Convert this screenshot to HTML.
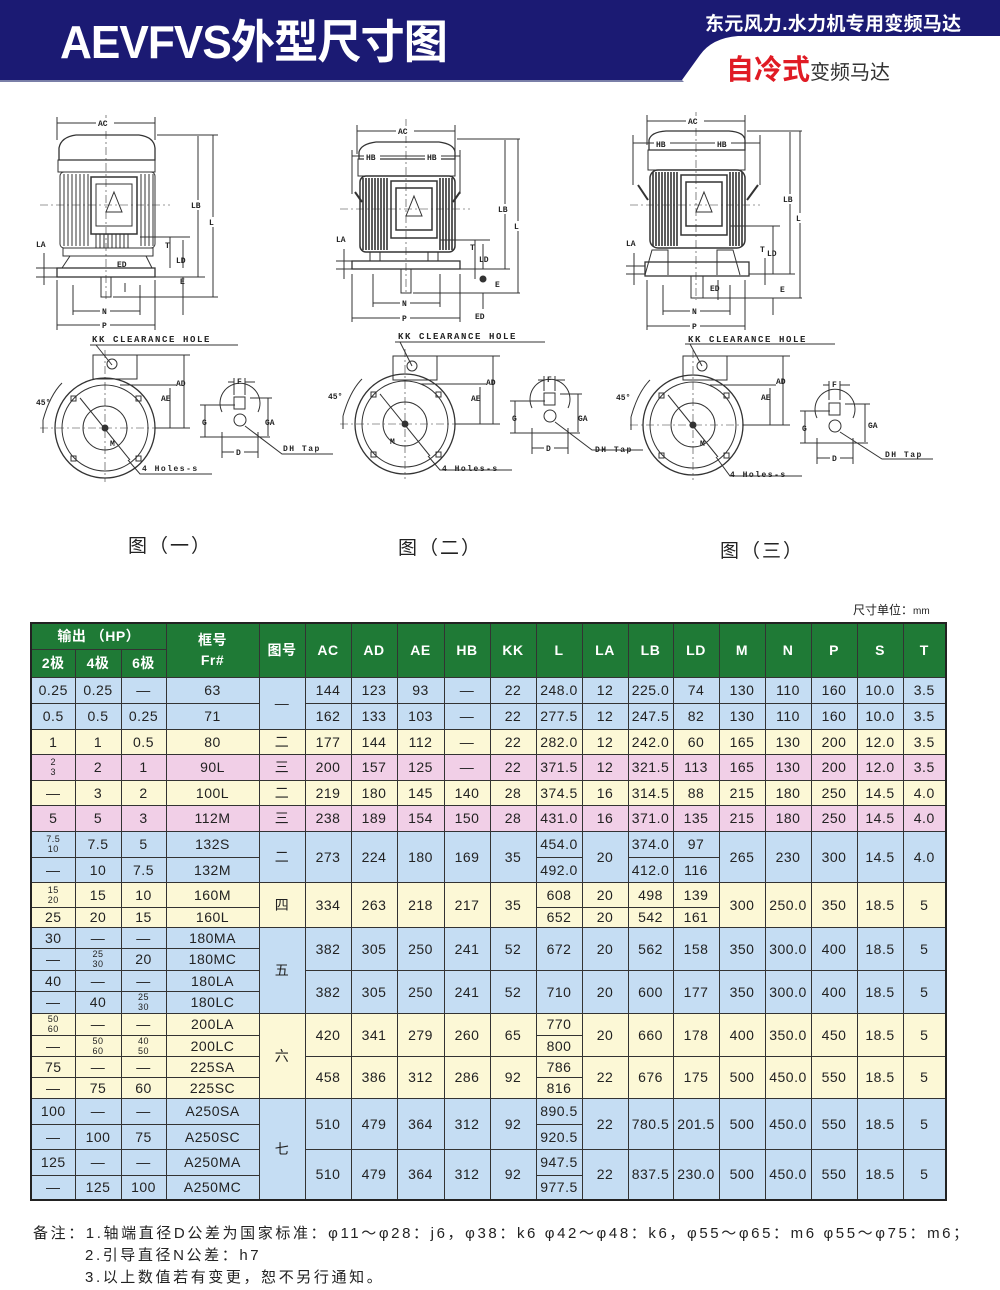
<!DOCTYPE html>
<html><head><meta charset="utf-8">
<style>
*{margin:0;padding:0;box-sizing:border-box}
body{width:1000px;height:1290px;background:#fff;position:relative;overflow:hidden;font-family:"Liberation Sans","Noto Sans CJK SC",sans-serif;color:#222}
.abs{position:absolute}
table{position:absolute;left:30px;top:622px;border-collapse:collapse;table-layout:fixed;border:2px solid #222}
td,th{border:1px solid #333;text-align:center;font-size:14px;padding:0;line-height:1;white-space:nowrap;letter-spacing:0.5px}
th{background:#1f7a36;color:#fff;font-weight:bold;font-size:14px}
.b{background:#c5ddf3}.y{background:#fcf8d6}.p{background:#f1cfe7}
.fr{font-size:9px;line-height:10px;display:block}
.cap{position:absolute;font-size:19px;font-family:"Liberation Sans","Noto Sans CJK SC",sans-serif;letter-spacing:2px}
svg text{font-family:"Liberation Mono",monospace;font-weight:bold;font-size:8px;fill:#222}
</style></head><body>
<svg class="abs" style="left:0;top:0" width="1000" height="100">
<path d="M0 0 H1000 V36 H738 Q712 38 700 55 L682 80 H0 Z" fill="#1b1a73"/>
<path d="M0 80 H682 L684 82 H0 Z" fill="#7a7fa8"/>
</svg>
<div class="abs" style="left:60px;top:6px;color:#fff;font-size:46px;font-weight:bold;letter-spacing:-1px;transform:scaleX(0.96);transform-origin:left">AEVFVS外型尺寸图</div>
<div class="abs" style="left:705px;top:9px;color:#fff;font-size:19px;font-weight:bold;letter-spacing:0.3px">东元风力.水力机专用变频马达</div>
<div class="abs" style="left:726px;top:48px;font-size:28px;color:#e01b24;font-weight:bold">自冷式<span style="font-size:20px;color:#333;font-weight:normal">变频马达</span></div>

<svg class="abs" style="left:0;top:100px" width="1000" height="420" viewBox="0 100 1000 420">
<!-- FIG 1 -->
<g>
<g fill="none" stroke="#333" stroke-width="1">
<line x1="57" y1="123" x2="155" y2="123"/><line x1="57" y1="117" x2="57" y2="140"/><line x1="155" y1="117" x2="155" y2="140"/>
<path d="M59 160 L59 148 Q61 137 76 135 L139 135 Q154 137 155 148 L155 160 Z" stroke-width="1.3"/>
<rect x="58" y="160" width="97" height="12"/>
<rect x="60" y="172" width="95" height="76" rx="4"/>
<path d="M64 174V246M68 174V246M72 174V246M76 174V246M80 174V246M84 174V246M88 174V246M141 174V246M145 174V246M149 174V246M153 174V246M96 234V248M100 234V248M104 234V248M108 234V248M112 234V248M116 234V248M120 234V248M124 234V248M128 234V248"/>
<rect x="91" y="177" width="46" height="57" stroke-width="1.5"/><rect x="96" y="184" width="36" height="42"/>
<path d="M114 192 L122 212 L106 212 Z"/>
<path d="M63 248 H153 V256 H63 Z"/><path d="M70 256 L62 268 M146 256 L152 268"/><rect x="57" y="268" width="98" height="9" stroke-width="1.3"/>
<rect x="101" y="277" width="10" height="20"/>
<line x1="106" y1="115" x2="106" y2="300" stroke-dasharray="8 3 2 3" stroke-width=".6"/>
<line x1="40" y1="205" x2="170" y2="205" stroke-dasharray="8 3 2 3" stroke-width=".6"/>
<line x1="157" y1="135" x2="218" y2="135"/><line x1="155" y1="277" x2="205" y2="277"/><line x1="113" y1="297" x2="218" y2="297"/>
<line x1="198" y1="136" x2="198" y2="277"/><line x1="213" y1="135" x2="213" y2="297"/>
<line x1="140" y1="237" x2="190" y2="237"/><line x1="170" y1="237" x2="170" y2="268"/><line x1="183" y1="240" x2="183" y2="268"/>
<line x1="183" y1="277" x2="183" y2="315"/><line x1="125" y1="283" x2="125" y2="292"/>
<line x1="44" y1="253" x2="44" y2="285"/><line x1="36" y1="268" x2="57" y2="268"/><line x1="36" y1="277" x2="57" y2="277"/>
<line x1="73" y1="311" x2="140" y2="311"/><line x1="73" y1="285" x2="73" y2="315"/><line x1="140" y1="285" x2="140" y2="315"/>
<line x1="57" y1="325" x2="155" y2="325"/><line x1="57" y1="280" x2="57" y2="330"/><line x1="155" y1="280" x2="155" y2="330"/>
<line x1="90" y1="345" x2="238" y2="345"/><line x1="96" y1="345" x2="112" y2="365"/>
<rect x="93" y="355" width="44" height="24"/><circle cx="112" cy="364" r="5"/>
<circle cx="105" cy="428" r="50" stroke-width="1.3"/><circle cx="105" cy="428" r="43"/><circle cx="105" cy="428" r="22"/><circle cx="105" cy="428" r="3" fill="#333"/>
<line x1="40" y1="428" x2="190" y2="428" stroke-dasharray="8 3 2 3" stroke-width=".6"/><line x1="105" y1="350" x2="105" y2="482" stroke-dasharray="8 3 2 3" stroke-width=".6"/>
<line x1="80" y1="398" x2="130" y2="460"/>
<rect x="71" y="396" width="5" height="5"/><rect x="136" y="396" width="5" height="5"/><rect x="71" y="456" width="5" height="5"/><rect x="136" y="456" width="5" height="5"/>
<line x1="137" y1="355" x2="190" y2="355"/><line x1="155" y1="428" x2="190" y2="428"/><line x1="184" y1="355" x2="184" y2="428"/><line x1="170" y1="388" x2="170" y2="428"/><line x1="120" y1="385" x2="176" y2="385"/>
<line x1="43" y1="420" x2="43" y2="433"/><path d="M43 420 Q50 395 62 383"/>
<path d="M128 460 L140 474 H212"/>
<path d="M222 412 A20 20 0 1 1 258 412"/><rect x="234" y="397" width="11" height="12"/><circle cx="240" cy="420" r="6"/>
<line x1="228" y1="382" x2="234" y2="382"/><line x1="245" y1="382" x2="255" y2="382"/><line x1="234" y1="378" x2="234" y2="395"/><line x1="245" y1="378" x2="245" y2="395"/>
<line x1="205" y1="405" x2="205" y2="437"/><line x1="200" y1="405" x2="235" y2="405"/><line x1="200" y1="437" x2="270" y2="437"/>
<line x1="268" y1="398" x2="268" y2="436"/><line x1="250" y1="398" x2="272" y2="398"/>
<line x1="222" y1="452" x2="258" y2="452"/><line x1="222" y1="432" x2="222" y2="458"/><line x1="258" y1="432" x2="258" y2="458"/>
<path d="M245 426 L282 454 H333"/>
</g>
<rect x="96" y="118" width="18" height="10" fill="#fff"/><text x="98" y="126">AC</text>
<rect x="190" y="200" width="15" height="10" fill="#fff"/><text x="191" y="208">LB</text>
<rect x="208" y="217" width="10" height="10" fill="#fff"/><text x="209" y="225">L</text>
<text x="165" y="248">T</text><text x="176" y="263">LD</text><text x="117" y="267">ED</text><text x="180" y="284">E</text>
<text x="36" y="247">LA</text>
<rect x="100" y="306" width="10" height="10" fill="#fff"/><text x="102" y="314">N</text>
<rect x="100" y="320" width="10" height="10" fill="#fff"/><text x="102" y="328">P</text>
<text x="92" y="342" style="font-size:9px;letter-spacing:1.6px">KK CLEARANCE HOLE</text>
<text x="176" y="386">AD</text><text x="161" y="401">AE</text><text x="36" y="405">45°</text><text x="110" y="446">M</text>
<text x="142" y="471" style="letter-spacing:1.5px">4 Holes-s</text>
<text x="237" y="384">F</text><text x="202" y="425">G</text><text x="265" y="425">GA</text>
<rect x="234" y="447" width="10" height="10" fill="#fff"/><text x="236" y="455">D</text>
<text x="283" y="451" style="letter-spacing:1.5px">DH Tap</text>
</g>

<!-- FIG 2 -->
<g transform="translate(300,4)">
<g fill="none" stroke="#333" stroke-width="1">
<line x1="57" y1="127" x2="155" y2="127"/><line x1="57" y1="121" x2="57" y2="150"/><line x1="155" y1="121" x2="155" y2="150"/>
<path d="M59 155 L59 148 Q61 140 76 138 L139 138 Q154 140 155 148 L155 155 Z" stroke-width="1.3"/>
<rect x="58" y="155" width="97" height="17"/>
<line x1="52" y1="152" x2="160" y2="152"/><line x1="52" y1="146" x2="52" y2="190"/><line x1="160" y1="146" x2="160" y2="190"/>
<rect x="60" y="172" width="95" height="76" rx="6" stroke-width="1.5"/>
<path d="M63 174V246M66 174V246M69 174V246M72 174V246M75 174V246M78 174V246M81 174V246M84 174V246M87 174V246M140 174V246M143 174V246M146 174V246M149 174V246M152 174V246" stroke-width="1.6"/>
<path d="M55 188 L62 198 M160 188 L153 198" stroke-width="2"/>
<rect x="91" y="177" width="46" height="57" stroke-width="1.5"/><rect x="96" y="184" width="36" height="42" stroke-width="1.5"/>
<path d="M114 192 L122 212 L106 212 Z"/>
<rect x="70" y="248" width="10" height="9"/><rect x="128" y="248" width="10" height="9"/>
<rect x="52" y="257" width="108" height="8" stroke-width="1.3"/>
<rect x="101" y="265" width="10" height="24"/>
<line x1="106" y1="115" x2="106" y2="290" stroke-dasharray="8 3 2 3" stroke-width=".6"/>
<line x1="40" y1="205" x2="170" y2="205" stroke-dasharray="8 3 2 3" stroke-width=".6"/>
<line x1="157" y1="135" x2="220" y2="135"/><line x1="160" y1="265" x2="210" y2="265"/><line x1="113" y1="289" x2="220" y2="289"/>
<line x1="205" y1="136" x2="205" y2="265"/><line x1="218" y1="135" x2="218" y2="289"/>
<line x1="140" y1="236" x2="190" y2="236"/><line x1="175" y1="236" x2="175" y2="275"/><line x1="183" y1="240" x2="183" y2="265"/>
<circle cx="183" cy="275" r="3" fill="#333"/><line x1="183" y1="289" x2="183" y2="305"/>
<line x1="44" y1="245" x2="44" y2="275"/><line x1="36" y1="257" x2="52" y2="257"/><line x1="36" y1="265" x2="52" y2="265"/>
<line x1="73" y1="299" x2="140" y2="299"/><line x1="73" y1="270" x2="73" y2="303"/><line x1="140" y1="270" x2="140" y2="303"/>
<line x1="52" y1="314" x2="160" y2="314"/><line x1="52" y1="270" x2="52" y2="318"/><line x1="160" y1="270" x2="160" y2="318"/>
<line x1="95" y1="338" x2="245" y2="338"/><line x1="100" y1="338" x2="112" y2="362"/>
<rect x="93" y="352" width="44" height="24"/><circle cx="112" cy="362" r="5"/>
<circle cx="105" cy="420" r="50" stroke-width="1.3"/><circle cx="105" cy="420" r="43"/><circle cx="105" cy="420" r="22"/><circle cx="105" cy="420" r="3" fill="#333"/>
<line x1="40" y1="420" x2="190" y2="420" stroke-dasharray="8 3 2 3" stroke-width=".6"/><line x1="105" y1="345" x2="105" y2="475" stroke-dasharray="8 3 2 3" stroke-width=".6"/>
<line x1="80" y1="390" x2="130" y2="452"/>
<rect x="71" y="388" width="5" height="5"/><rect x="136" y="388" width="5" height="5"/><rect x="71" y="448" width="5" height="5"/><rect x="136" y="448" width="5" height="5"/>
<line x1="137" y1="352" x2="200" y2="352"/><line x1="155" y1="420" x2="200" y2="420"/><line x1="193" y1="352" x2="193" y2="420"/><line x1="180" y1="383" x2="180" y2="420"/><line x1="120" y1="380" x2="186" y2="380"/>
<line x1="43" y1="412" x2="43" y2="425"/><path d="M43 412 Q50 387 62 375"/>
<path d="M128 452 L140 466 H212"/>
<path d="M232 404 A20 20 0 1 1 268 404"/><rect x="244" y="389" width="11" height="12"/><circle cx="250" cy="412" r="6"/>
<line x1="238" y1="376" x2="244" y2="376"/><line x1="255" y1="376" x2="265" y2="376"/><line x1="244" y1="372" x2="244" y2="387"/><line x1="255" y1="372" x2="255" y2="387"/>
<line x1="215" y1="397" x2="215" y2="429"/><line x1="210" y1="397" x2="245" y2="397"/><line x1="210" y1="429" x2="280" y2="429"/>
<line x1="278" y1="390" x2="278" y2="428"/><line x1="260" y1="390" x2="282" y2="390"/>
<line x1="232" y1="444" x2="268" y2="444"/><line x1="232" y1="424" x2="232" y2="450"/><line x1="268" y1="424" x2="268" y2="450"/>
<path d="M255 418 L292 446 H343"/>
</g>
<rect x="96" y="122" width="18" height="10" fill="#fff"/><text x="98" y="130">AC</text>
<rect x="64" y="148" width="16" height="10" fill="#fff"/><text x="66" y="156">HB</text>
<rect x="125" y="148" width="16" height="10" fill="#fff"/><text x="127" y="156">HB</text>
<rect x="197" y="200" width="15" height="10" fill="#fff"/><text x="198" y="208">LB</text>
<rect x="213" y="217" width="10" height="10" fill="#fff"/><text x="214" y="225">L</text>
<text x="170" y="246">T</text><text x="179" y="258">LD</text><text x="195" y="283">E</text>
<text x="36" y="238">LA</text>
<rect x="100" y="294" width="10" height="10" fill="#fff"/><text x="102" y="302">N</text>
<rect x="100" y="309" width="10" height="10" fill="#fff"/><text x="102" y="317">P</text>
<text x="175" y="315">ED</text>
<text x="98" y="335" style="font-size:9px;letter-spacing:1.6px">KK CLEARANCE HOLE</text>
<text x="186" y="381">AD</text><text x="171" y="397">AE</text><text x="28" y="395">45°</text><text x="90" y="440">M</text>
<text x="142" y="467" style="letter-spacing:1.5px">4 Holes-s</text>
<text x="247" y="378">F</text><text x="212" y="417">G</text><text x="278" y="417">GA</text>
<rect x="244" y="439" width="10" height="10" fill="#fff"/><text x="246" y="447">D</text>
<text x="295" y="448" style="letter-spacing:1.5px">DH Tap</text>
</g>

<!-- FIG 3 -->
<g transform="translate(590,0)">
<g fill="none" stroke="#333" stroke-width="1">
<line x1="57" y1="121" x2="155" y2="121"/><line x1="57" y1="115" x2="57" y2="145"/><line x1="155" y1="115" x2="155" y2="145"/>
<path d="M59 150 L59 140 Q61 132 76 131 L139 131 Q154 132 155 140 L155 150 Z" stroke-width="1.3"/>
<rect x="58" y="150" width="97" height="20"/>
<line x1="43" y1="143" x2="170" y2="143"/><line x1="43" y1="135" x2="43" y2="185"/><line x1="170" y1="135" x2="170" y2="185"/>
<rect x="60" y="170" width="95" height="78" rx="8" stroke-width="1.5"/>
<path d="M63 172V246M66 172V246M69 172V246M72 172V246M75 172V246M78 172V246M81 172V246M84 172V246M87 172V246M140 172V246M143 172V246M146 172V246M149 172V246M152 172V246" stroke-width="1.6"/>
<path d="M48 185 L58 200 M168 185 L157 200" stroke-width="2"/>
<rect x="91" y="175" width="46" height="60" stroke-width="1.5"/><rect x="96" y="182" width="36" height="44" stroke-width="1.5"/>
<path d="M114 192 L122 212 L106 212 Z"/>
<path d="M55 275 L62 250 H78 V275 M150 275 L143 250 H127 V275"/>
<rect x="55" y="262" width="104" height="14" stroke-width="1.3"/>
<rect x="101" y="276" width="12" height="22"/>
<line x1="106" y1="112" x2="106" y2="300" stroke-dasharray="8 3 2 3" stroke-width=".6"/>
<line x1="40" y1="205" x2="170" y2="205" stroke-dasharray="8 3 2 3" stroke-width=".6"/>
<line x1="157" y1="131" x2="212" y2="131"/><line x1="159" y1="274" x2="205" y2="274"/><line x1="113" y1="298" x2="212" y2="298"/>
<line x1="200" y1="132" x2="200" y2="274"/><line x1="210" y1="131" x2="210" y2="298"/>
<line x1="140" y1="226" x2="190" y2="226"/><line x1="175" y1="258" x2="175" y2="285"/><line x1="183" y1="226" x2="183" y2="274"/>
<line x1="183" y1="298" x2="183" y2="315"/><line x1="128" y1="280" x2="128" y2="300"/>
<line x1="44" y1="253" x2="44" y2="285"/><line x1="36" y1="266" x2="55" y2="266"/><line x1="36" y1="274" x2="55" y2="274"/>
<line x1="73" y1="311" x2="140" y2="311"/><line x1="73" y1="285" x2="73" y2="315"/><line x1="140" y1="285" x2="140" y2="315"/>
<line x1="57" y1="326" x2="155" y2="326"/><line x1="57" y1="280" x2="57" y2="330"/><line x1="155" y1="280" x2="155" y2="330"/>
<line x1="95" y1="344" x2="245" y2="344"/><line x1="100" y1="344" x2="112" y2="366"/>
<rect x="93" y="356" width="44" height="24"/><circle cx="112" cy="366" r="5"/>
<circle cx="103" cy="425" r="50" stroke-width="1.3"/><circle cx="103" cy="425" r="43"/><circle cx="103" cy="425" r="22"/><circle cx="103" cy="425" r="3" fill="#333"/>
<line x1="40" y1="425" x2="190" y2="425" stroke-dasharray="8 3 2 3" stroke-width=".6"/><line x1="103" y1="350" x2="103" y2="480" stroke-dasharray="8 3 2 3" stroke-width=".6"/>
<line x1="78" y1="395" x2="128" y2="457"/>
<rect x="69" y="393" width="5" height="5"/><rect x="134" y="393" width="5" height="5"/><rect x="69" y="453" width="5" height="5"/><rect x="134" y="453" width="5" height="5"/>
<line x1="137" y1="356" x2="200" y2="356"/><line x1="153" y1="425" x2="200" y2="425"/><line x1="193" y1="356" x2="193" y2="425"/><line x1="180" y1="388" x2="180" y2="425"/><line x1="120" y1="385" x2="186" y2="385"/>
<line x1="41" y1="417" x2="41" y2="430"/><path d="M41 417 Q48 392 60 380"/>
<path d="M126 457 L140 476 H212"/>
<path d="M227 418 A20 20 0 1 1 263 418"/><rect x="239" y="403" width="11" height="12"/><circle cx="245" cy="426" r="6"/>
<line x1="233" y1="385" x2="239" y2="385"/><line x1="250" y1="385" x2="260" y2="385"/><line x1="239" y1="381" x2="239" y2="400"/><line x1="250" y1="381" x2="250" y2="400"/>
<line x1="215" y1="411" x2="215" y2="443"/><line x1="210" y1="411" x2="240" y2="411"/><line x1="210" y1="443" x2="278" y2="443"/>
<line x1="275" y1="404" x2="275" y2="442"/><line x1="255" y1="404" x2="280" y2="404"/>
<line x1="227" y1="458" x2="263" y2="458"/><line x1="227" y1="438" x2="227" y2="464"/><line x1="263" y1="438" x2="263" y2="464"/>
<path d="M250 432 L292 459 H343"/>
</g>
<rect x="96" y="116" width="18" height="10" fill="#fff"/><text x="98" y="124">AC</text>
<rect x="64" y="139" width="16" height="10" fill="#fff"/><text x="66" y="147">HB</text>
<rect x="125" y="139" width="16" height="10" fill="#fff"/><text x="127" y="147">HB</text>
<rect x="192" y="194" width="15" height="10" fill="#fff"/><text x="193" y="202">LB</text>
<rect x="205" y="213" width="10" height="10" fill="#fff"/><text x="206" y="221">L</text>
<text x="170" y="252">T</text><text x="177" y="256">LD</text><text x="120" y="291">ED</text><text x="190" y="292">E</text>
<text x="36" y="246">LA</text>
<rect x="100" y="306" width="10" height="10" fill="#fff"/><text x="102" y="314">N</text>
<rect x="100" y="321" width="10" height="10" fill="#fff"/><text x="102" y="329">P</text>
<text x="98" y="342" style="font-size:9px;letter-spacing:1.6px">KK CLEARANCE HOLE</text>
<text x="186" y="384">AD</text><text x="171" y="400">AE</text><text x="26" y="400">45°</text><text x="110" y="446">M</text>
<text x="140" y="477" style="letter-spacing:1.5px">4 Holes-s</text>
<text x="242" y="387">F</text><text x="212" y="431">G</text><text x="278" y="428">GA</text>
<rect x="240" y="453" width="10" height="10" fill="#fff"/><text x="242" y="461">D</text>
<text x="295" y="457" style="letter-spacing:1.5px">DH Tap</text>
</g>
</svg>

<div class="cap" style="left:128px;top:531px">图（一）</div>
<div class="cap" style="left:398px;top:533px">图（二）</div>
<div class="cap" style="left:720px;top:536px">图（三）</div>

<div class="abs" style="left:853px;top:601px;font-size:12px">尺寸单位：<span style="font-size:10px">mm</span></div>

<table>
<colgroup>
<col style="width:44px"><col style="width:46px"><col style="width:45px"><col style="width:93px"><col style="width:46px">
<col style="width:46px"><col style="width:46px"><col style="width:47px"><col style="width:46px"><col style="width:46px">
<col style="width:46px"><col style="width:46px"><col style="width:45px"><col style="width:46px"><col style="width:46px">
<col style="width:46px"><col style="width:46px"><col style="width:46px"><col style="width:43px">
</colgroup>
<tr style="height:26px"><th colspan="3">输出 （HP）</th><th rowspan="2">框号<br><span style="display:block;margin-top:6px">Fr#</span></th><th rowspan="2">图号</th><th rowspan="2">AC</th><th rowspan="2">AD</th><th rowspan="2">AE</th><th rowspan="2">HB</th><th rowspan="2">KK</th><th rowspan="2">L</th><th rowspan="2">LA</th><th rowspan="2">LB</th><th rowspan="2">LD</th><th rowspan="2">M</th><th rowspan="2">N</th><th rowspan="2">P</th><th rowspan="2">S</th><th rowspan="2">T</th></tr>
<tr style="height:28px"><th>2极</th><th>4极</th><th>6极</th></tr>
<tr style="height:26px" class="b"><td class="b">0.25</td><td class="b">0.25</td><td class="b">—</td><td class="b">63</td><td class="b" rowspan="2">—</td><td class="b">144</td><td class="b">123</td><td class="b">93</td><td class="b">—</td><td class="b">22</td><td class="b">248.0</td><td class="b">12</td><td class="b">225.0</td><td class="b">74</td><td class="b">130</td><td class="b">110</td><td class="b">160</td><td class="b">10.0</td><td class="b">3.5</td></tr>
<tr style="height:26px"><td class="b">0.5</td><td class="b">0.5</td><td class="b">0.25</td><td class="b">71</td><td class="b">162</td><td class="b">133</td><td class="b">103</td><td class="b">—</td><td class="b">22</td><td class="b">277.5</td><td class="b">12</td><td class="b">247.5</td><td class="b">82</td><td class="b">130</td><td class="b">110</td><td class="b">160</td><td class="b">10.0</td><td class="b">3.5</td></tr>
<tr style="height:25px"><td class="y">1</td><td class="y">1</td><td class="y">0.5</td><td class="y">80</td><td class="y">二</td><td class="y">177</td><td class="y">144</td><td class="y">112</td><td class="y">—</td><td class="y">22</td><td class="y">282.0</td><td class="y">12</td><td class="y">242.0</td><td class="y">60</td><td class="y">165</td><td class="y">130</td><td class="y">200</td><td class="y">12.0</td><td class="y">3.5</td></tr>
<tr style="height:26px"><td class="p"><span class="fr">2</span><span class="fr">3</span></td><td class="p">2</td><td class="p">1</td><td class="p">90L</td><td class="p">三</td><td class="p">200</td><td class="p">157</td><td class="p">125</td><td class="p">—</td><td class="p">22</td><td class="p">371.5</td><td class="p">12</td><td class="p">321.5</td><td class="p">113</td><td class="p">165</td><td class="p">130</td><td class="p">200</td><td class="p">12.0</td><td class="p">3.5</td></tr>
<tr style="height:25px"><td class="y">—</td><td class="y">3</td><td class="y">2</td><td class="y">100L</td><td class="y">二</td><td class="y">219</td><td class="y">180</td><td class="y">145</td><td class="y">140</td><td class="y">28</td><td class="y">374.5</td><td class="y">16</td><td class="y">314.5</td><td class="y">88</td><td class="y">215</td><td class="y">180</td><td class="y">250</td><td class="y">14.5</td><td class="y">4.0</td></tr>
<tr style="height:26px"><td class="p">5</td><td class="p">5</td><td class="p">3</td><td class="p">112M</td><td class="p">三</td><td class="p">238</td><td class="p">189</td><td class="p">154</td><td class="p">150</td><td class="p">28</td><td class="p">431.0</td><td class="p">16</td><td class="p">371.0</td><td class="p">135</td><td class="p">215</td><td class="p">180</td><td class="p">250</td><td class="p">14.5</td><td class="p">4.0</td></tr>
<tr style="height:26px"><td class="b"><span class="fr">7.5</span><span class="fr">10</span></td><td class="b">7.5</td><td class="b">5</td><td class="b">132S</td><td class="b" rowspan="2">二</td><td class="b" rowspan="2">273</td><td class="b" rowspan="2">224</td><td class="b" rowspan="2">180</td><td class="b" rowspan="2">169</td><td class="b" rowspan="2">35</td><td class="b">454.0</td><td class="b" rowspan="2">20</td><td class="b">374.0</td><td class="b">97</td><td class="b" rowspan="2">265</td><td class="b" rowspan="2">230</td><td class="b" rowspan="2">300</td><td class="b" rowspan="2">14.5</td><td class="b" rowspan="2">4.0</td></tr>
<tr style="height:25px"><td class="b">—</td><td class="b">10</td><td class="b">7.5</td><td class="b">132M</td><td class="b">492.0</td><td class="b">412.0</td><td class="b">116</td></tr>
<tr style="height:25px"><td class="y"><span class="fr">15</span><span class="fr">20</span></td><td class="y">15</td><td class="y">10</td><td class="y">160M</td><td class="y" rowspan="2">四</td><td class="y" rowspan="2">334</td><td class="y" rowspan="2">263</td><td class="y" rowspan="2">218</td><td class="y" rowspan="2">217</td><td class="y" rowspan="2">35</td><td class="y">608</td><td class="y">20</td><td class="y">498</td><td class="y">139</td><td class="y" rowspan="2">300</td><td class="y" rowspan="2">250.0</td><td class="y" rowspan="2">350</td><td class="y" rowspan="2">18.5</td><td class="y" rowspan="2">5</td></tr>
<tr style="height:20px"><td class="y">25</td><td class="y">20</td><td class="y">15</td><td class="y">160L</td><td class="y">652</td><td class="y">20</td><td class="y">542</td><td class="y">161</td></tr>
<tr style="height:21px"><td class="b">30</td><td class="b">—</td><td class="b">—</td><td class="b">180MA</td><td class="b" rowspan="4">五</td><td class="b" rowspan="2">382</td><td class="b" rowspan="2">305</td><td class="b" rowspan="2">250</td><td class="b" rowspan="2">241</td><td class="b" rowspan="2">52</td><td class="b" rowspan="2">672</td><td class="b" rowspan="2">20</td><td class="b" rowspan="2">562</td><td class="b" rowspan="2">158</td><td class="b" rowspan="2">350</td><td class="b" rowspan="2">300.0</td><td class="b" rowspan="2">400</td><td class="b" rowspan="2">18.5</td><td class="b" rowspan="2">5</td></tr>
<tr style="height:22px"><td class="b">—</td><td class="b"><span class="fr">25</span><span class="fr">30</span></td><td class="b">20</td><td class="b">180MC</td></tr>
<tr style="height:21px"><td class="b">40</td><td class="b">—</td><td class="b">—</td><td class="b">180LA</td><td class="b" rowspan="2">382</td><td class="b" rowspan="2">305</td><td class="b" rowspan="2">250</td><td class="b" rowspan="2">241</td><td class="b" rowspan="2">52</td><td class="b" rowspan="2">710</td><td class="b" rowspan="2">20</td><td class="b" rowspan="2">600</td><td class="b" rowspan="2">177</td><td class="b" rowspan="2">350</td><td class="b" rowspan="2">300.0</td><td class="b" rowspan="2">400</td><td class="b" rowspan="2">18.5</td><td class="b" rowspan="2">5</td></tr>
<tr style="height:22px"><td class="b">—</td><td class="b">40</td><td class="b"><span class="fr">25</span><span class="fr">30</span></td><td class="b">180LC</td></tr>
<tr style="height:22px"><td class="y"><span class="fr">50</span><span class="fr">60</span></td><td class="y">—</td><td class="y">—</td><td class="y">200LA</td><td class="y" rowspan="4">六</td><td class="y" rowspan="2">420</td><td class="y" rowspan="2">341</td><td class="y" rowspan="2">279</td><td class="y" rowspan="2">260</td><td class="y" rowspan="2">65</td><td class="y">770</td><td class="y" rowspan="2">20</td><td class="y" rowspan="2">660</td><td class="y" rowspan="2">178</td><td class="y" rowspan="2">400</td><td class="y" rowspan="2">350.0</td><td class="y" rowspan="2">450</td><td class="y" rowspan="2">18.5</td><td class="y" rowspan="2">5</td></tr>
<tr style="height:21px"><td class="y">—</td><td class="y"><span class="fr">50</span><span class="fr">60</span></td><td class="y"><span class="fr">40</span><span class="fr">50</span></td><td class="y">200LC</td><td class="y">800</td></tr>
<tr style="height:21px"><td class="y">75</td><td class="y">—</td><td class="y">—</td><td class="y">225SA</td><td class="y" rowspan="2">458</td><td class="y" rowspan="2">386</td><td class="y" rowspan="2">312</td><td class="y" rowspan="2">286</td><td class="y" rowspan="2">92</td><td class="y">786</td><td class="y" rowspan="2">22</td><td class="y" rowspan="2">676</td><td class="y" rowspan="2">175</td><td class="y" rowspan="2">500</td><td class="y" rowspan="2">450.0</td><td class="y" rowspan="2">550</td><td class="y" rowspan="2">18.5</td><td class="y" rowspan="2">5</td></tr>
<tr style="height:21px"><td class="y">—</td><td class="y">75</td><td class="y">60</td><td class="y">225SC</td><td class="y">816</td></tr>
<tr style="height:26px"><td class="b">100</td><td class="b">—</td><td class="b">—</td><td class="b">A250SA</td><td class="b" rowspan="4">七</td><td class="b" rowspan="2">510</td><td class="b" rowspan="2">479</td><td class="b" rowspan="2">364</td><td class="b" rowspan="2">312</td><td class="b" rowspan="2">92</td><td class="b">890.5</td><td class="b" rowspan="2">22</td><td class="b" rowspan="2">780.5</td><td class="b" rowspan="2">201.5</td><td class="b" rowspan="2">500</td><td class="b" rowspan="2">450.0</td><td class="b" rowspan="2">550</td><td class="b" rowspan="2">18.5</td><td class="b" rowspan="2">5</td></tr>
<tr style="height:25px"><td class="b">—</td><td class="b">100</td><td class="b">75</td><td class="b">A250SC</td><td class="b">920.5</td></tr>
<tr style="height:26px"><td class="b">125</td><td class="b">—</td><td class="b">—</td><td class="b">A250MA</td><td class="b" rowspan="2">510</td><td class="b" rowspan="2">479</td><td class="b" rowspan="2">364</td><td class="b" rowspan="2">312</td><td class="b" rowspan="2">92</td><td class="b">947.5</td><td class="b" rowspan="2">22</td><td class="b" rowspan="2">837.5</td><td class="b" rowspan="2">230.0</td><td class="b" rowspan="2">500</td><td class="b" rowspan="2">450.0</td><td class="b" rowspan="2">550</td><td class="b" rowspan="2">18.5</td><td class="b" rowspan="2">5</td></tr>
<tr style="height:25px"><td class="b">—</td><td class="b">125</td><td class="b">100</td><td class="b">A250MC</td><td class="b">977.5</td></tr>
</table>

<div class="abs" style="left:33px;top:1223px;font-size:15px;line-height:22px;white-space:nowrap;letter-spacing:2.6px">
备注：1.轴端直径D公差为国家标准：φ11～φ28：j6，φ38：k6 φ42～φ48：k6，φ55～φ65：m6 φ55～φ75：m6；<br>
<span style="padding-left:52px">2.引导直径N公差：h7</span><br>
<span style="padding-left:52px">3.以上数值若有变更，恕不另行通知。</span>
</div>
</body></html>
